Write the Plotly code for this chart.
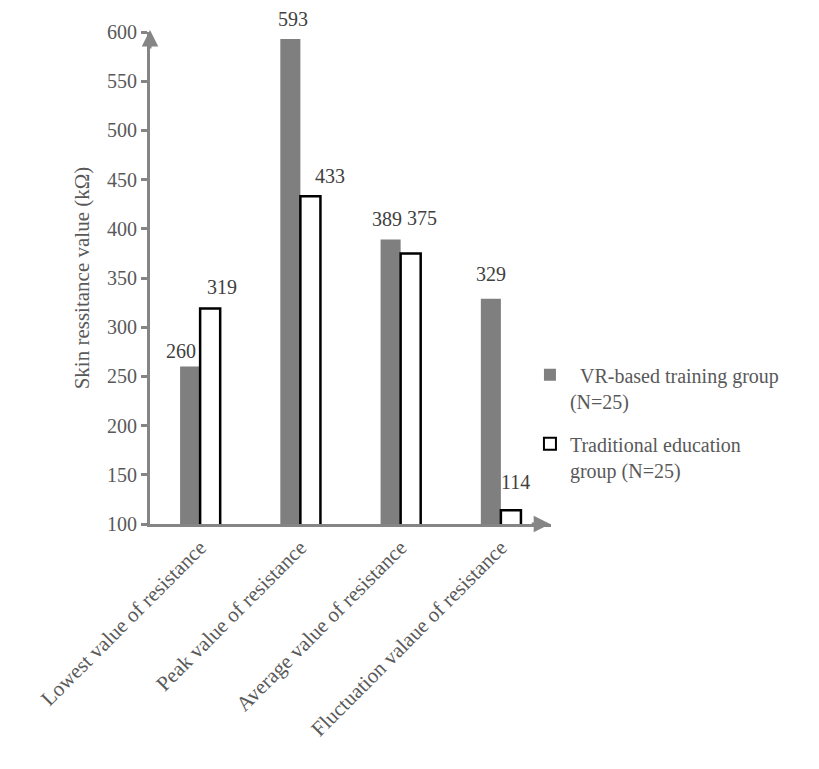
import plotly.graph_objects as go

categories = [
    "Lowest value of resistance",
    "Peak value of resistance",
    "Average value of resistance",
    "Fluctuation valaue of resistance",
]
vr_group = [260, 593, 389, 329]
traditional_group = [319, 433, 375, 114]
series_names = [
    "\u00a0\u00a0VR-based training group<br>(N=25)",
    "Traditional education<br>group (N=25)",
]
y_ticks = [100, 150, 200, 250, 300, 350, 400, 450, 500, 550, 600]

FONT = "Liberation Serif, Times New Roman, serif"
AXIS_GRAY = "#858585"
TEXT_GRAY = "#595959"
LABEL_GRAY = "#404040"

fig = go.Figure()
fig.add_trace(go.Bar(
    x=categories, y=vr_group, name=series_names[0], legendgroup="vr",
    marker=dict(color="#7f7f7f", line=dict(width=0)),
))
fig.add_trace(go.Bar(
    x=categories, y=traditional_group, name=series_names[1], legendgroup="trad",
    marker=dict(color="white", line=dict(color="black", width=2.5)),
))

# value labels above each bar (nudged so neighbouring labels do not collide)
label_nudges = {
    0: dict(offset=-0.1, dx=[-9, 3, -4, 0], dy=[3, 7, 8, 12]),
    1: dict(offset=0.1, dx=[12, 20, 11, 5], dy=[9, 7, 22, 15]),
}
for s, values in enumerate([vr_group, traditional_group]):
    nudge = label_nudges[s]
    for j, v in enumerate(values):
        fig.add_annotation(
            x=j + nudge["offset"], y=v, xref="x", yref="y",
            text=str(v), showarrow=False, yanchor="bottom",
            xshift=nudge["dx"][j], yshift=nudge["dy"][j],
            font=dict(family=FONT, size=20, color=LABEL_GRAY),
        )

fig.update_layout(
    width=819, height=769,
    margin=dict(l=150, r=268, t=32, b=245),
    paper_bgcolor="white", plot_bgcolor="white",
    barmode="group", bargap=0.6, bargroupgap=0,
    font=dict(family=FONT, size=20, color=TEXT_GRAY),
    showlegend=True,
    legend=dict(
        x=0.9475, y=0.343, xanchor="left", yanchor="top",
        font=dict(family=FONT, size=20, color=TEXT_GRAY),
        bgcolor="rgba(0,0,0,0)", tracegroupgap=14,
        itemsizing="constant", valign="top",
    ),
    xaxis=dict(
        range=[-0.5, 3.5], showline=True, linecolor=AXIS_GRAY, linewidth=3,
        ticks="", tickangle=-45, showgrid=False, zeroline=False,
        tickfont=dict(family=FONT, size=21, color=TEXT_GRAY),
    ),
    yaxis=dict(
        range=[100, 600], tickvals=y_ticks, showline=True, linecolor=AXIS_GRAY,
        linewidth=3, ticks="outside", ticklen=6, tickwidth=2.5, tickcolor=AXIS_GRAY,
        showgrid=False, zeroline=False,
        tickfont=dict(family=FONT, size=20, color=TEXT_GRAY),
        title=dict(text="Skin ressitance value (kΩ)",
                   font=dict(family=FONT, size=21, color=TEXT_GRAY), standoff=12),
    ),
)

# arrowheads at the ends of both axes
fig.add_annotation(
    xref="paper", yref="paper", x=0, y=1.004, ax=0, ay=20,
    showarrow=True, arrowhead=2, arrowsize=1.1, arrowwidth=3,
    arrowcolor=AXIS_GRAY, text="",
)
fig.add_annotation(
    xref="paper", yref="paper", x=0.998, y=0, ax=-20, ay=0,
    showarrow=True, arrowhead=2, arrowsize=1.1, arrowwidth=3,
    arrowcolor=AXIS_GRAY, text="",
)

fig.write_html("out.html")
